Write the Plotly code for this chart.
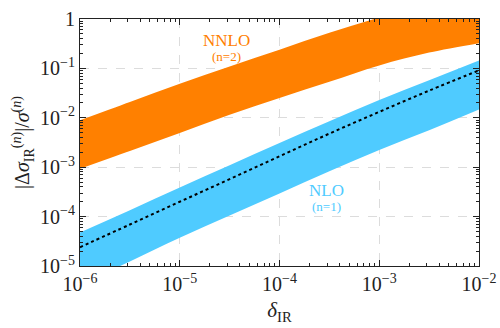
import numpy as np
import plotly.graph_objects as go

# --- data (log10 values) ---
log_delta = [-6.0, -5.5, -5.0, -4.5, -4.0, -3.5, -3.0, -2.5, -2.0]
nnlo_upper_log = [-2.05, -1.68, -1.31, -0.96, -0.62, -0.28, 0.03, 0.30, 0.55]
nnlo_lower_log = [-3.03, -2.67, -2.31, -1.94, -1.60, -1.27, -0.94, -0.68, -0.49]
nlo_upper_log = [-4.32, -3.87, -3.41, -2.96, -2.51, -2.07, -1.64, -1.24, -0.84]
nlo_central_log = [-4.62, -4.16, -3.70, -3.24, -2.78, -2.32, -1.88, -1.45, -1.04]
nlo_lower_log = [-5.36, -4.91, -4.43, -3.98, -3.53, -3.08, -2.65, -2.25, -1.83]

x_tick_exps = [-6, -5, -4, -3, -2]
y_tick_exps = [-5, -4, -3, -2, -1, 0]

ORANGE = "#FF8000"
BLUE = "#4FCBFF"
FONT = "Liberation Serif"
TXT = "#222"

x = [10 ** v for v in log_delta]
to_lin = lambda arr: [10 ** v for v in arr]

fig = go.Figure()
fig.add_trace(go.Scatter(x=x, y=to_lin(nnlo_lower_log), mode="lines",
                         line=dict(width=0, color=ORANGE, shape="spline"),
                         showlegend=False, hoverinfo="skip"))
fig.add_trace(go.Scatter(x=x, y=to_lin(nnlo_upper_log), mode="lines",
                         line=dict(width=0, color=ORANGE, shape="spline"),
                         fill="tonexty", fillcolor=ORANGE,
                         showlegend=False, hoverinfo="skip"))
fig.add_trace(go.Scatter(x=x, y=to_lin(nlo_lower_log), mode="lines",
                         line=dict(width=0, color=BLUE, shape="spline"),
                         showlegend=False, hoverinfo="skip"))
fig.add_trace(go.Scatter(x=x, y=to_lin(nlo_upper_log), mode="lines",
                         line=dict(width=0, color=BLUE, shape="spline"),
                         fill="tonexty", fillcolor=BLUE,
                         showlegend=False, hoverinfo="skip"))
fig.add_trace(go.Scatter(x=x, y=to_lin(nlo_central_log), mode="lines",
                         line=dict(width=2, color="black", dash="dot", shape="spline"),
                         showlegend=False, hoverinfo="skip"))


def sup_label(e):
    return "1" if e == 0 else "10<sup>\u2212%d</sup>" % (-e)


def minor_vals(exps):
    vals = []
    for e in exps[:-1]:
        for m in range(2, 10):
            vals.append(m * 10 ** e)
    return vals


axis_common = dict(
    type="log", showline=True, linecolor="#222", linewidth=1.2, mirror="allticks",
    ticks="inside", ticklen=6, tickwidth=1, tickcolor="#222",
    showgrid=True, gridcolor="#dcdcdc", griddash="dash", gridwidth=1,
    zeroline=False, tickfont=dict(family=FONT, size=20, color=TXT),
    automargin=False,
)

fig.update_xaxes(
    **axis_common,
    range=[-6, -2],
    tickmode="array",
    tickvals=[10 ** e for e in x_tick_exps],
    ticktext=[sup_label(e) for e in x_tick_exps],
    minor=dict(tickmode="array", tickvals=minor_vals(x_tick_exps), ticks="inside",
               ticklen=3, tickcolor="#222", showgrid=False),
    title=dict(text="<i>δ</i><sub>IR</sub>", font=dict(family=FONT, size=21, color=TXT),
               standoff=8),
)
fig.update_yaxes(
    **axis_common,
    range=[-5, 0],
    tickmode="array",
    tickvals=[10 ** e for e in y_tick_exps],
    ticktext=[sup_label(e) for e in y_tick_exps],
    minor=dict(tickmode="array", tickvals=minor_vals(y_tick_exps), ticks="inside",
               ticklen=3, tickcolor="#222", showgrid=False),
    title=dict(text="|Δ<i>σ</i><sub>IR</sub><sup>(<i>n</i>)</sup>|/<i>σ</i><sup>(<i>n</i>)</sup>",
               font=dict(family=FONT, size=20, color=TXT), standoff=4),
)

annots = [
    ("NNLO", -4.53, -0.44, ORANGE, 17),
    ("(n=2)", -4.53, -0.76, ORANGE, 13),
    ("NLO", -3.53, -3.48, BLUE, 17),
    ("(n=1)", -3.53, -3.80, BLUE, 13),
]
for txt, ax_, ay_, col, sz in annots:
    fig.add_annotation(x=ax_, y=ay_, xref="x", yref="y", text=txt, showarrow=False,
                       font=dict(family=FONT, size=sz, color=col))

fig.update_layout(
    width=500, height=328,
    margin=dict(l=80, r=21, t=19, b=62),
    plot_bgcolor="white", paper_bgcolor="white",
    showlegend=False,
)

fig.write_html("out.html",
               config={"displayModeBar": False},
               post_script="document.body.style.margin='0';document.body.style.overflow='hidden';")
